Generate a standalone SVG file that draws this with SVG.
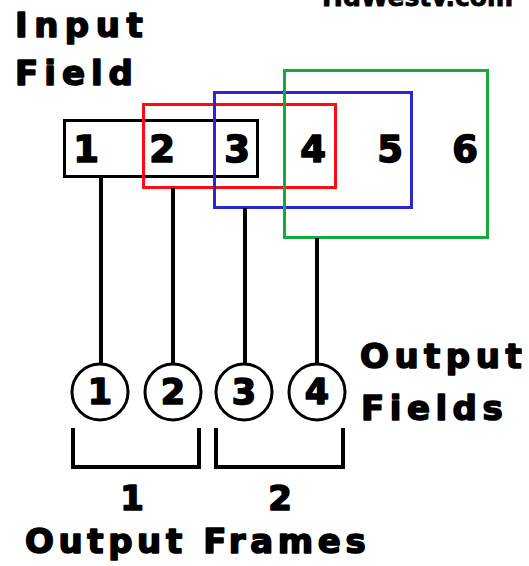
<svg xmlns="http://www.w3.org/2000/svg" width="529" height="566" viewBox="0 0 529 566">
  <style>
    .lbl { font-family: "DejaVu Sans", Verdana, sans-serif; font-weight: bold; fill: #000; stroke: #000; stroke-width: 1.6; stroke-linejoin: round; }
    .big { font-size: 34px; letter-spacing: 5.5px; }
    .num { font-size: 37px; text-anchor: middle; }
    .cnum { font-size: 35px; text-anchor: middle; }
    .box { fill: none; stroke-width: 3; }
    .wire { stroke: #000; stroke-width: 4; fill: none; }
    .node { fill: #fff; stroke: #000; stroke-width: 3; }
  </style>
  <rect width="529" height="566" fill="#fff"/>

  <!-- site mark, clipped at the top edge -->
  <text class="lbl" x="322" y="6" style="font-size:25px;stroke-width:0.8">HdWestv.com</text>

  <!-- captions -->
  <g id="caption-input">
    <text class="lbl big" x="15" y="37" style="letter-spacing:6.5px">Input</text>
    <text class="lbl big" x="15" y="85" style="letter-spacing:6px">Field</text>
  </g>
  <g id="caption-output-fields">
    <text class="lbl big" x="360" y="368">Output</text>
    <text class="lbl big" x="361" y="420">Fields</text>
  </g>
  <g id="caption-output-frames">
    <text class="lbl big" x="25" y="553" style="letter-spacing:4.6px">Output Frames</text>
  </g>

  <!-- input field strip 1..6 -->
  <g id="input-field">
    <rect class="box" x="64.5" y="120.5" width="193" height="56" stroke="#000"/>
    <text class="lbl num" x="86" y="162">1</text>
    <text class="lbl num" x="162" y="162">2</text>
    <text class="lbl num" x="237" y="162">3</text>
    <text class="lbl num" x="313" y="162">4</text>
    <text class="lbl num" x="390" y="162">5</text>
    <text class="lbl num" x="465" y="162">6</text>
  </g>

  <!-- sliding field windows -->
  <g id="window-red"><rect class="box" x="143.5" y="104.5" width="192" height="83" stroke="#ff0a14"/></g>
  <g id="window-blue"><rect class="box" x="214.5" y="92.5" width="197" height="115" stroke="#2828d2"/></g>
  <g id="window-green"><rect class="box" x="284.5" y="70.5" width="203" height="167" stroke="#14aa3c"/></g>

  <!-- connectors -->
  <g id="connectors">
    <line class="wire" x1="101" y1="177" x2="101" y2="364"/>
    <line class="wire" x1="173" y1="188" x2="173" y2="364"/>
    <line class="wire" x1="245" y1="208" x2="245" y2="364"/>
    <line class="wire" x1="317" y1="238" x2="317" y2="364"/>
    <path class="wire" d="M73 428 V467 H199 V428"/>
    <path class="wire" d="M216 428 V467 H343 V428"/>
  </g>

  <!-- output fields -->
  <g id="out-1"><circle class="node" cx="100" cy="392" r="28"/><text class="lbl cnum" x="100" y="404">1</text></g>
  <g id="out-2"><circle class="node" cx="173" cy="392" r="28"/><text class="lbl cnum" x="173" y="404">2</text></g>
  <g id="out-3"><circle class="node" cx="244" cy="392" r="28"/><text class="lbl cnum" x="244" y="404">3</text></g>
  <g id="out-4"><circle class="node" cx="317" cy="392" r="28"/><text class="lbl cnum" x="317" y="404">4</text></g>

  <!-- output frame numbers -->
  <g id="frame-1"><text class="lbl num" x="132" y="510" style="font-size:34px">1</text></g>
  <g id="frame-2"><text class="lbl num" x="280" y="510" style="font-size:34px">2</text></g>
</svg>
